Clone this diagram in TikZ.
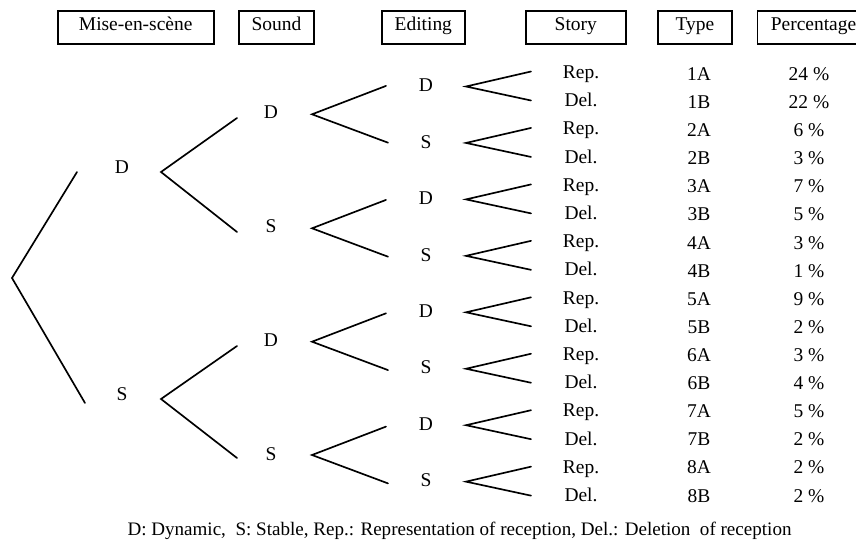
\documentclass[tikz,border=0pt]{standalone}
\usepackage{fontspec}
\setmainfont{Liberation Serif}
\begin{document}
\begin{tikzpicture}[x=0.75pt,y=-0.75pt,
  lbl/.style={font=\fontsize{14.6}{16}\selectfont, inner sep=0pt, anchor=base},
  hdr/.style={draw, line width=1.4pt, font=\fontsize{14.6}{16}\selectfont, inner sep=0pt,
    text height=10pt, text depth=4.75pt, minimum height=24.5pt},
  br/.style={line width=1.25pt, line cap=round}]
\useasboundingbox (0,0) rectangle (856,541);

% headers
\node[hdr, minimum width=117pt]  (hM) at (135.7,27.4) {Mise-en-scène};
\node[hdr, minimum width=56.25pt] (hS) at (276.5,27.4) {Sound};
\node[hdr, minimum width=62.5pt] (hE) at (423.3,27.4) {Editing};
\node[hdr, minimum width=74.8pt] (hT) at (575.8,27.4) {Story};
\node[hdr, minimum width=56pt]   (hY) at (695,27.4) {Type};
\node[hdr, minimum width=84pt]   (hP) at (813.5,27.4) {Percentage};

% root
\coordinate (r) at (12,278);
\coordinate (ru) at (77,172);
\coordinate (rd) at (85,403);
\draw[br] (ru) -- (r) -- (rd);

% level 1
\node[lbl] (l1a) at (122,174) {D};
\node[lbl] (l1b) at (122,400) {S};
\coordinate (v1a) at (161,172);
\coordinate (v1au) at (237,118);
\coordinate (v1ad) at (237,232);
\coordinate (v1b) at (161,399);
\coordinate (v1bu) at (237,346);
\coordinate (v1bd) at (237,458);
\draw[br] (v1au) -- (v1a) -- (v1ad);
\draw[br] (v1bu) -- (v1b) -- (v1bd);

% level 2
\foreach \i/\t/\yv/\yb in {1/D/114.3/119, 2/S/228.3/232.7, 3/D/341.7/346.7, 4/S/455/460} {
  \node[lbl] (l2\i) at (271,\yb) {\t};
  \coordinate (v2\i) at (312,\yv);
  \coordinate (v2u\i) at (386,\yv-28.4);
  \coordinate (v2d\i) at (388,\yv+28.4);
  \draw[br] (v2u\i) -- (v2\i) -- (v2d\i);
}

% level 3, story, type, percentage
\foreach \i/\t/\pa/\pb in {1/D/24/22, 2/S/6/3, 3/D/7/5, 4/S/3/1, 5/D/9/2, 6/S/3/4, 7/D/5/2, 8/S/2/2} {
  \pgfmathsetmacro\yv{86.5+56.45*(\i-1)}
  \pgfmathsetmacro\yr{78.5+56.4*(\i-1)}
  \pgfmathsetmacro\yd{\yr+28.2}
  \pgfmathsetmacro\ya{80.5+56.2*(\i-1)}
  \pgfmathsetmacro\yB{\ya+28.1}
  \node[lbl] (l3\i) at (426,\yv+5.2) {\t};
  \coordinate (v3\i) at (466,\yv);
  \coordinate (v3u\i) at (531,\yv-15);
  \coordinate (v3d\i) at (531,\yv+14);
  \draw[br] (v3u\i) -- (v3\i) -- (v3d\i);
  \node[lbl] (rep\i) at (581,\yr) {Rep.};
  \node[lbl] (del\i) at (581,\yd) {Del.};
  \node[lbl] (ta\i) at (699,\ya) {\i A};
  \node[lbl] (tb\i) at (699,\yB) {\i B};
  \node[lbl] (pa\i) at (809,\ya) {\pa{} \%};
  \node[lbl] (pb\i) at (809,\yB) {\pb{} \%};
}

% caption
\node[lbl, font=\fontsize{14.3}{16}\selectfont] (cap) at (459.5,535.7)
  {D: Dynamic,\ \ S: Stable, Rep.: Representation of reception, Del.: Deletion\ \ of reception};
\end{tikzpicture}
\end{document}
